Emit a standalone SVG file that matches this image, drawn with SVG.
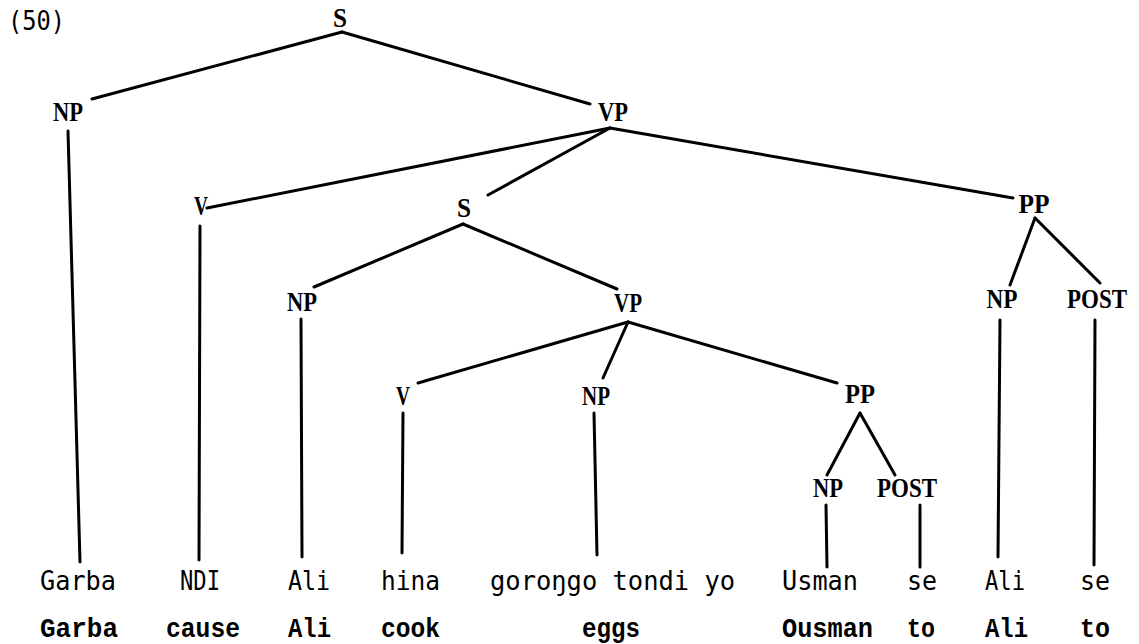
<svg xmlns="http://www.w3.org/2000/svg" width="1139" height="644" viewBox="0 0 1139 644">
  <style>
    .cat { font-family: "Liberation Serif", "Times New Roman", serif; font-size: 27px; font-weight: bold; fill: #000; text-anchor: middle; }
    .word { font-family: "DejaVu Sans Mono", "Liberation Mono", monospace; font-size: 26px; fill: #000; }
    .gloss { font-family: "Liberation Mono", "Courier New", monospace; font-size: 27px; font-weight: bold; fill: #000; }
    .edge { stroke: #000; stroke-width: 3; stroke-linecap: round; fill: none; }
  </style>
  <rect width="1139" height="644" fill="#fff"/>

  <text class="word" x="8" y="30" font-size="25" textLength="57" lengthAdjust="spacingAndGlyphs">(50)</text>

  <!-- branches of the tree -->
  <g id="connectors">
    <line class="edge" x1="342" y1="32" x2="92" y2="99"/>
    <line class="edge" x1="342" y1="32" x2="590" y2="104"/>
    <line class="edge" x1="68" y1="131" x2="80" y2="562"/>
    <line class="edge" x1="610" y1="128" x2="207" y2="208"/>
    <line class="edge" x1="610" y1="128" x2="488" y2="195"/>
    <line class="edge" x1="610" y1="128" x2="1013" y2="198"/>
    <line class="edge" x1="200" y1="226" x2="199" y2="560"/>
    <line class="edge" x1="463" y1="224" x2="314" y2="287"/>
    <line class="edge" x1="463" y1="224" x2="617" y2="289"/>
    <line class="edge" x1="301" y1="319" x2="302" y2="557"/>
    <line class="edge" x1="628" y1="322" x2="418" y2="383"/>
    <line class="edge" x1="628" y1="322" x2="603" y2="378"/>
    <line class="edge" x1="628" y1="322" x2="837" y2="383"/>
    <line class="edge" x1="403" y1="413" x2="402" y2="553"/>
    <line class="edge" x1="594" y1="413" x2="597" y2="555"/>
    <line class="edge" x1="860" y1="413" x2="827" y2="475"/>
    <line class="edge" x1="860" y1="413" x2="895" y2="475"/>
    <line class="edge" x1="826" y1="505" x2="827" y2="567"/>
    <line class="edge" x1="920" y1="505" x2="920" y2="567"/>
    <line class="edge" x1="1035" y1="218" x2="1010" y2="285"/>
    <line class="edge" x1="1035" y1="218" x2="1100" y2="283"/>
    <line class="edge" x1="1000" y1="320" x2="998" y2="557"/>
    <line class="edge" x1="1095" y1="320" x2="1094" y2="565"/>
  </g>

  <!-- category nodes -->
  <g id="s-root"><text class="cat" x="340" y="27" textLength="14" lengthAdjust="spacingAndGlyphs">S</text></g>
  <g id="np-subject"><text class="cat" x="68" y="121" textLength="30" lengthAdjust="spacingAndGlyphs">NP</text></g>
  <g id="vp-main"><text class="cat" x="613" y="121" textLength="30" lengthAdjust="spacingAndGlyphs">VP</text></g>
  <g id="v-cause"><text class="cat" x="201" y="215" textLength="14" lengthAdjust="spacingAndGlyphs">V</text></g>
  <g id="s-embedded"><text class="cat" x="464" y="217" textLength="14" lengthAdjust="spacingAndGlyphs">S</text></g>
  <g id="pp-main"><text class="cat" x="1034" y="213" textLength="31" lengthAdjust="spacingAndGlyphs">PP</text></g>
  <g id="np-embedded"><text class="cat" x="302" y="311" textLength="30" lengthAdjust="spacingAndGlyphs">NP</text></g>
  <g id="vp-embedded"><text class="cat" x="628" y="312" textLength="28" lengthAdjust="spacingAndGlyphs">VP</text></g>
  <g id="np-pp-main"><text class="cat" x="1002" y="308" textLength="31" lengthAdjust="spacingAndGlyphs">NP</text></g>
  <g id="post-pp-main"><text class="cat" x="1097" y="308" textLength="60" lengthAdjust="spacingAndGlyphs">POST</text></g>
  <g id="v-cook"><text class="cat" x="403" y="405" textLength="14" lengthAdjust="spacingAndGlyphs">V</text></g>
  <g id="np-object"><text class="cat" x="596" y="405" textLength="28" lengthAdjust="spacingAndGlyphs">NP</text></g>
  <g id="pp-embedded"><text class="cat" x="860" y="403" textLength="30" lengthAdjust="spacingAndGlyphs">PP</text></g>
  <g id="np-pp-embedded"><text class="cat" x="828" y="497" textLength="30" lengthAdjust="spacingAndGlyphs">NP</text></g>
  <g id="post-pp-embedded"><text class="cat" x="907" y="497" textLength="60" lengthAdjust="spacingAndGlyphs">POST</text></g>

  <!-- words -->
  <g id="leaves">
    <text class="word" x="40" y="590" textLength="76" lengthAdjust="spacingAndGlyphs">Garba</text>
    <text class="word" x="180" y="590" textLength="40" lengthAdjust="spacingAndGlyphs">NDI</text>
    <text class="word" x="288" y="590" textLength="42" lengthAdjust="spacingAndGlyphs">Ali</text>
    <text class="word" x="381" y="590" textLength="59" lengthAdjust="spacingAndGlyphs">hina</text>
    <text class="word" x="490" y="590" textLength="245" lengthAdjust="spacingAndGlyphs">goroŋgo tondi yo</text>
    <text class="word" x="782" y="590" textLength="76" lengthAdjust="spacingAndGlyphs">Usman</text>
    <text class="word" x="907" y="590" textLength="30" lengthAdjust="spacingAndGlyphs">se</text>
    <text class="word" x="985" y="590" textLength="40" lengthAdjust="spacingAndGlyphs">Ali</text>
    <text class="word" x="1080" y="590" textLength="30" lengthAdjust="spacingAndGlyphs">se</text>
  </g>

  <!-- glosses -->
  <g id="glosses">
    <text class="gloss" x="40" y="637" textLength="78" lengthAdjust="spacingAndGlyphs">Garba</text>
    <text class="gloss" x="166" y="637" textLength="74" lengthAdjust="spacingAndGlyphs">cause</text>
    <text class="gloss" x="288" y="637" textLength="43" lengthAdjust="spacingAndGlyphs">Ali</text>
    <text class="gloss" x="381" y="637" textLength="59" lengthAdjust="spacingAndGlyphs">cook</text>
    <text class="gloss" x="582" y="637" textLength="58" lengthAdjust="spacingAndGlyphs">eggs</text>
    <text class="gloss" x="782" y="637" textLength="91" lengthAdjust="spacingAndGlyphs">Ousman</text>
    <text class="gloss" x="907" y="637" textLength="28" lengthAdjust="spacingAndGlyphs">to</text>
    <text class="gloss" x="985" y="637" textLength="43" lengthAdjust="spacingAndGlyphs">Ali</text>
    <text class="gloss" x="1080" y="637" textLength="30" lengthAdjust="spacingAndGlyphs">to</text>
  </g>
</svg>
